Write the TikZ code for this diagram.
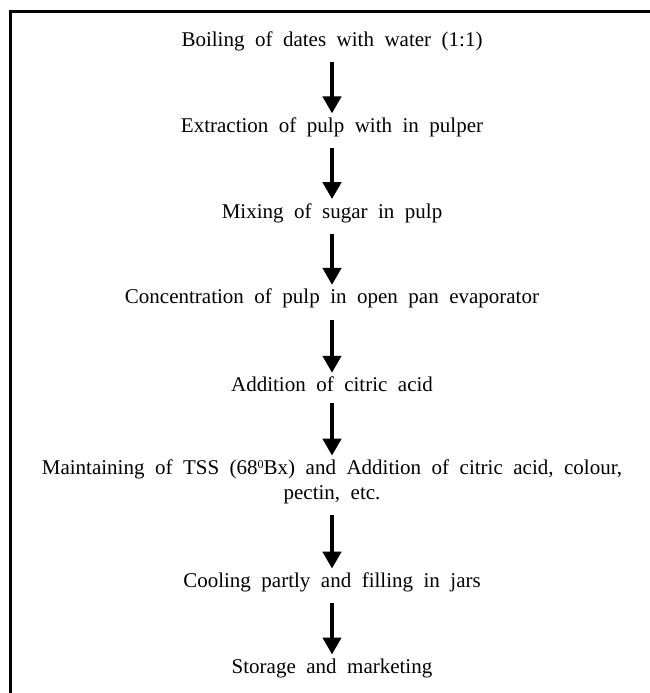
\documentclass[tikz,border=0pt]{standalone}
\usepackage{fontspec}
\setmainfont{Liberation Serif}
\usetikzlibrary{arrows.meta}
\newcommand\stepfont{\fontsize{21}{25}\selectfont\spaceskip=10.5pt plus 2pt\relax}
\newcommand\degsup{\raisebox{0.62ex}{\fontsize{12}{12}\selectfont 0}}

\begin{document}
\begin{tikzpicture}[x=1pt,y=1pt,node distance=85.75pt,
  stepbox/.style={inner sep=2pt,align=center,font=\stepfont},
  flow/.style={-{Triangle[width=18pt,length=17pt]},line width=4.5pt,
    shorten <=9pt,shorten >=2pt}]

  \useasboundingbox (0,0) rectangle (650,-693);
  % frame (only top and left sides are visible)
  \draw[line width=3pt] (10,-710) -- (10,-12) -- (670,-12);

  \node[stepbox] (boil) at (332,-41.5) {Boiling of dates with water (1:1)};
  \node[stepbox] (extract) [below of=boil] {Extraction of pulp with in pulper};
  \node[stepbox] (mix) [below of=extract] {Mixing of sugar in pulp};
  \node[stepbox] (conc) [below of=mix] {Concentration of pulp in open pan evaporator};
  \node[stepbox] (acid) [below of=conc] {Addition of citric acid};
  \node[stepbox,node distance=97.5pt] (tss) [below of=acid]
    {Maintaining of TSS (68\degsup Bx) and Addition of citric acid, colour,\\ pectin, etc.};
  \node[stepbox,node distance=100.5pt] (cool) [below of=tss] {Cooling partly and filling in jars};
  \node[stepbox] (store) [below of=cool] {Storage and marketing};

  \draw[flow] (boil) -- (extract);
  \draw[flow] (extract) -- (mix);
  \draw[flow] (mix) -- (conc);
  \draw[flow] (conc) -- (acid);
  \draw[flow] (acid) -- (tss);
  \draw[flow] (tss) -- (cool);
  \draw[flow] (cool) -- (store);
\end{tikzpicture}
\end{document}
